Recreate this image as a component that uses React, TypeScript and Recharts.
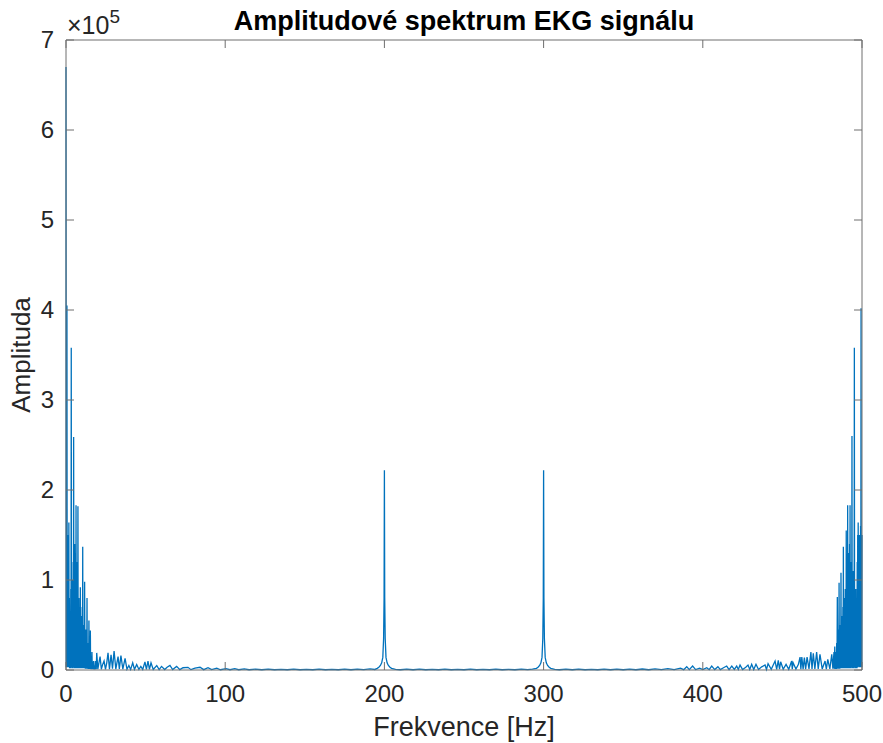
import { LineChart, Line, XAxis, YAxis } from "recharts";

// amplitude spectrum of the ECG signal, [frequency Hz, amplitude]
const LOW_BAND: [number, number][] = [
  [0, 670000], [0.15, 3000], [0.3, 150000], [0.45, 5000], [0.6, 405000],
  [0.75, 4000], [0.9, 120000], [1.05, 3000], [1.2, 150000], [1.35, 6000],
  [1.5, 140000], [1.65, 3000], [1.8, 164000], [1.95, 5000], [2.1, 80000],
  [2.25, 2000], [2.4, 60000], [2.55, 4000], [2.7, 40000], [2.85, 2000],
  [3.0, 90000], [3.15, 3000], [3.3, 358000], [3.45, 4000], [3.6, 70000],
  [3.75, 2000], [3.9, 100000], [4.05, 3000], [4.2, 60000], [4.35, 2000],
  [4.5, 120000], [4.65, 4000], [4.8, 259000], [4.95, 3000], [5.1, 90000],
  [5.25, 2000], [5.4, 140000], [5.55, 3000], [5.7, 100000], [5.85, 2000],
  [6.0, 130000], [6.15, 3000], [6.3, 183000], [6.45, 2000], [6.6, 80000],
  [6.75, 3000], [6.9, 120000], [7.05, 2000], [7.2, 90000], [7.35, 3000],
  [7.5, 182000], [7.65, 2000], [7.8, 60000], [7.95, 3000], [8.1, 80000],
  [8.25, 2000], [8.4, 50000], [8.55, 2000], [8.7, 70000], [8.85, 3000],
  [9.0, 92000], [9.15, 2000], [9.3, 40000], [9.45, 2000], [9.6, 60000],
  [9.75, 2000], [9.9, 45000], [10.05, 2000], [10.2, 70000], [10.35, 2000],
  [10.5, 137000], [10.65, 2000], [10.8, 40000], [10.95, 2000], [11.1, 50000],
  [11.25, 2000], [11.4, 35000], [11.55, 2000], [11.7, 98000], [11.85, 2000],
  [12.0, 30000], [12.15, 1500], [12.3, 45000], [12.45, 1500], [12.6, 25000],
  [12.75, 1500], [12.9, 40000], [13.05, 1500], [13.2, 80000], [13.35, 1500],
  [13.5, 25000], [13.65, 1500], [13.8, 30000], [13.95, 1000], [14.1, 20000],
  [14.25, 1500], [14.4, 55000], [14.55, 1000], [14.7, 15000], [14.85, 1000],
  [15.0, 25000], [15.15, 1000], [15.3, 44000], [15.45, 1000], [15.6, 12000],
  [15.75, 800], [15.9, 15000], [16.05, 800], [16.3, 20000], [16.5, 800],
  [16.8, 8000], [17.0, 800], [17.3, 10000], [17.6, 600], [17.9, 5000],
  [18.2, 600],
];

const LOW_TAIL: [number, number][] = [
  [18.5, 10000], [19.0, 800], [19.3, 19000], [20.0, 1000], [21.4, 15000],
  [22.2, 800], [23.0, 6000], [23.9, 10000], [24.8, 800], [25.6, 8000],
  [26.4, 19000], [27.3, 1000], [28.3, 17000], [29.2, 1500], [30.2, 21000],
  [31.3, 1000], [32.7, 15000], [33.5, 1200], [34.5, 16000], [35.7, 1000],
  [37.1, 13000], [38.3, 800], [39.5, 5000], [40.6, 600], [41.9, 8000],
  [43.0, 800], [44.4, 6000], [45.8, 600], [47.0, 4000], [48.2, 600],
  [49.6, 9000], [50.5, 800], [51.5, 10000], [52.4, 800], [53.4, 8000],
  [54.8, 600], [57.0, 5000], [58.5, 500], [60.0, 4000], [62.0, 500],
  [63.5, 3000], [65.3, 5000], [67.0, 500], [69.5, 4000], [71.5, 400],
  [73.5, 2500], [76.6, 3000], [78.5, 400], [81.0, 2000], [84.2, 3000],
  [86.5, 400], [89.2, 2500], [91.5, 400], [94.7, 2000], [97.0, 300],
  [100.5, 1500], [103.0, 300], [106.0, 1500], [108.5, 300],
];

const MID_A: [number, number][] = [
  [112, 1200], [115, 300], [119, 1000], [123, 300], [127, 900], [131, 300],
  [135, 800], [139, 300], [143, 900], [147, 300], [151, 800], [155, 300],
  [159, 900], [163, 300], [167, 800], [171, 300], [175, 900], [179, 300],
  [183, 1000], [187, 400], [191, 1200], [194, 600],
];

const PEAK_200: [number, number][] = [
  [195.5, 1800], [196.5, 3000], [197.5, 5000], [198.3, 8000], [199, 14000],
  [199.5, 35000], [199.8, 80000], [200, 222000], [200.2, 80000], [200.5, 35000],
  [201, 14000], [201.7, 8000], [202.5, 5000], [203.5, 3000], [204.5, 1800],
];

const MID_B: [number, number][] = [
  [207, 800], [210, 300], [214, 1000], [218, 300], [222, 900], [226, 300],
  [230, 800], [234, 300], [238, 900], [242, 300], [246, 800], [250, 300],
  [254, 900], [258, 300], [262, 800], [266, 300], [270, 900], [274, 300],
  [278, 800], [282, 300], [286, 900], [290, 400], [293, 1000],
];

const PEAK_300: [number, number][] = [
  [295.5, 1800], [296.5, 3000], [297.5, 5000], [298.3, 8000], [299, 14000],
  [299.5, 35000], [299.8, 80000], [300, 222000], [300.2, 80000], [300.5, 35000],
  [301, 14000], [301.7, 8000], [302.5, 5000], [303.5, 3000], [304.5, 1800],
];

const HIGH_TAIL: [number, number][] = [
  [307, 800], [310, 300], [314, 1000], [318, 300], [322, 900], [326, 300],
  [330, 800], [334, 300], [338, 900], [342, 300], [346, 1000], [350, 300],
  [354, 900], [358, 300], [362, 1100], [366, 300], [370, 1200], [374, 400],
  [378, 1500], [382, 400], [386, 2000], [388, 400], [389.9, 3700], [391.5, 400],
  [393.6, 4400], [395.5, 500], [398, 2000], [400, 400], [402.5, 2500], [404, 400],
  [405.6, 4400], [407.5, 500], [409.5, 3700], [411, 500], [413, 2500],
  [415, 4400], [416.5, 500], [418.2, 4400], [419.8, 600], [421.3, 4400],
  [422.3, 600], [423.4, 5500], [425, 600], [427, 3000], [428.4, 5500],
  [429.5, 600], [430.7, 6300], [432, 600], [433.4, 6300], [435, 600],
  [437, 3500], [439.1, 5500], [440, 600], [441, 7000], [443, 800],
  [445.4, 10000], [446.4, 800], [447.4, 10700], [448.2, 800], [448.9, 9200],
  [450.5, 800], [452.3, 6300], [454, 800], [455.8, 10000], [456.2, 800],
  [456.7, 8100], [458.5, 1000], [460, 6000], [461.1, 14400], [461.6, 1000],
  [462.2, 14400], [463, 1000], [463.8, 13700], [464.6, 1000], [465.5, 14400],
  [466.7, 1200], [467.9, 20000], [468.6, 1200], [469.4, 18500], [470.4, 1200],
  [471.5, 20000], [472.5, 1200], [473.6, 17400], [475, 1200], [476.8, 10000],
  [477.6, 1000], [478.5, 11800], [479.8, 1200], [481.0, 17400], [481.7, 1500],
  [482.4, 20000],
];

const HIGH_BAND: [number, number][] = [
  [482.6, 1500], [482.9, 26000], [483.1, 1000], [483.3, 12000], [483.5, 1000],
  [483.7, 20000], [483.9, 1000], [484.1, 30000], [484.3, 1500], [484.5, 81000],
  [484.7, 1500], [484.9, 25000], [485.1, 1500], [485.3, 45000], [485.45, 1500],
  [485.6, 97000], [485.75, 1500], [485.9, 35000], [486.05, 1500], [486.2, 50000],
  [486.35, 2000], [486.5, 40000], [486.65, 2000], [486.8, 108000], [486.95, 2000],
  [487.1, 45000], [487.25, 2000], [487.4, 60000], [487.55, 2000], [487.7, 50000],
  [487.85, 2000], [488.0, 70000], [488.15, 2000], [488.3, 137000], [488.45, 2000],
  [488.6, 60000], [488.75, 2000], [488.9, 80000], [489.05, 2000], [489.2, 55000],
  [489.35, 2000], [489.5, 90000], [489.65, 2000], [489.8, 60000], [489.95, 3000],
  [490.1, 155000], [490.25, 2000], [490.4, 80000], [490.55, 3000], [490.7, 110000],
  [490.85, 2000], [491.0, 183000], [491.15, 3000], [491.3, 90000], [491.45, 2000],
  [491.6, 130000], [491.75, 3000], [491.9, 100000], [492.05, 2000], [492.2, 140000],
  [492.35, 3000], [492.5, 183000], [492.65, 2000], [492.8, 90000], [492.95, 3000],
  [493.1, 120000], [493.25, 2000], [493.4, 100000], [493.55, 3000], [493.7, 260000],
  [493.85, 3000], [494.0, 90000], [494.15, 2000], [494.3, 110000], [494.45, 3000],
  [494.6, 70000], [494.75, 2000], [494.9, 100000], [495.05, 4000], [495.2, 358000],
  [495.35, 3000], [495.5, 80000], [495.65, 2000], [495.8, 60000], [495.95, 3000],
  [496.1, 90000], [496.25, 2000], [496.4, 50000], [496.55, 3000], [496.7, 70000],
  [496.85, 2000], [497.0, 120000], [497.15, 4000], [497.3, 150000], [497.45, 3000],
  [497.6, 164000], [497.75, 5000], [497.9, 140000], [498.05, 4000], [498.2, 150000],
  [498.35, 3000], [498.5, 120000], [498.65, 4000], [498.8, 150000], [498.95, 3000],
  [499.1, 160000], [499.25, 5000], [499.4, 402000], [499.55, 4000], [499.7, 150000],
  [499.85, 3000], [500, 150000],
];

const X_TICKS = [0, 100, 200, 300, 400, 500];
const Y_TICKS = [0, 100000, 200000, 300000, 400000, 500000, 600000, 700000];

const TITLE = "Amplitudové spektrum EKG signálu";
const X_LABEL = "Frekvence [Hz]";
const Y_LABEL = "Amplituda";

const data = [
  ...LOW_BAND, ...LOW_TAIL, ...MID_A, ...PEAK_200, ...MID_B,
  ...PEAK_300, ...HIGH_TAIL, ...HIGH_BAND,
].map(([f, a]) => ({ f, a }));

const FONT = "'Liberation Sans', Arial, Helvetica, sans-serif";
const AXIS = "#6e6e6e";
const TEXT = "#262626";
const TICK_LEN = 8;
const TICK_FONT = 24;
const LABEL_FONT = 26;

const BottomTick = (p: any) => (
  <g>
    <line x1={p.x} x2={p.x} y1={p.y} y2={p.y - TICK_LEN} stroke={AXIS} />
    <text x={p.x} y={p.y + 32} textAnchor="middle" fontSize={TICK_FONT} fill={TEXT} fontFamily={FONT}>
      {p.payload.value}
    </text>
  </g>
);

const TopTick = (p: any) => (
  <line x1={p.x} x2={p.x} y1={p.y} y2={p.y + TICK_LEN} stroke={AXIS} />
);

const LeftTick = (p: any) => (
  <g>
    <line x1={p.x} x2={p.x + TICK_LEN} y1={p.y} y2={p.y} stroke={AXIS} />
    <text x={p.x - 12} y={p.y + 8} textAnchor="end" fontSize={TICK_FONT} fill={TEXT} fontFamily={FONT}>
      {p.payload.value / 100000}
    </text>
  </g>
);

const RightTick = (p: any) => (
  <line x1={p.x} x2={p.x - TICK_LEN} y1={p.y} y2={p.y} stroke={AXIS} />
);

export default function App() {
  return (
    <div style={{ position: "absolute", left: 0, top: 0, background: "#fff" }}>
      <LineChart
        width={883}
        height={743}
        data={data}
        margin={{ top: 39, right: 20, bottom: 0, left: 0 }}
      >
        <XAxis
          dataKey="f"
          type="number"
          domain={[0, 500]}
          ticks={X_TICKS}
          interval={0}
          height={73}
          tickSize={0}
          tickMargin={0}
          tick={<BottomTick />}
          axisLine={{ stroke: AXIS }}
          tickLine={false}
          label={{
            content: (lp: any) => (
              <text
                x={lp.viewBox.x + lp.viewBox.width / 2}
                y={lp.viewBox.y + 66}
                textAnchor="middle"
                fontSize={27}
                fill={TEXT}
                fontFamily={FONT}
              >
                {X_LABEL}
              </text>
            ),
          }}
        />
        <XAxis
          xAxisId="top"
          dataKey="f"
          type="number"
          orientation="top"
          domain={[0, 500]}
          ticks={X_TICKS}
          interval={0}
          height={1}
          tickSize={0}
          tickMargin={0}
          tick={<TopTick />}
          axisLine={{ stroke: AXIS }}
          tickLine={false}
          label={{
            content: (lp: any) => (
              <text
                x={lp.viewBox.x + lp.viewBox.width / 2}
                y={lp.viewBox.y - 9}
                textAnchor="middle"
                fontSize={27}
                fontWeight="bold"
                fill="#000"
                fontFamily={FONT}
              >
                {TITLE}
              </text>
            ),
          }}
        />
        <YAxis
          type="number"
          domain={[0, 700000]}
          ticks={Y_TICKS}
          interval={0}
          width={66}
          tickSize={0}
          tickMargin={0}
          tick={<LeftTick />}
          axisLine={{ stroke: AXIS }}
          tickLine={false}
          label={{
            content: (lp: any) => (
              <g>
                <text
                  transform={`translate(${lp.viewBox.x + 30}, ${lp.viewBox.y + lp.viewBox.height / 2}) rotate(-90)`}
                  textAnchor="middle"
                  fontSize={LABEL_FONT}
                  fill={TEXT}
                  fontFamily={FONT}
                >
                  {Y_LABEL}
                </text>
                <text
                  x={lp.viewBox.x + lp.viewBox.width + 1}
                  y={lp.viewBox.y - 6}
                  fontSize={25}
                  fill={TEXT}
                  fontFamily={FONT}
                >
                  ×10
                  <tspan dy={-11} fontSize={19}>5</tspan>
                </text>
              </g>
            ),
          }}
        />
        <YAxis
          yAxisId="right"
          orientation="right"
          type="number"
          domain={[0, 700000]}
          ticks={Y_TICKS}
          interval={0}
          width={1}
          tickSize={0}
          tickMargin={0}
          tick={<RightTick />}
          axisLine={{ stroke: AXIS }}
          tickLine={false}
        />
        <Line
          xAxisId="top"
          yAxisId="right"
          type="linear"
          dataKey="a"
          stroke="none"
          dot={false}
          legendType="none"
          isAnimationActive={false}
        />
        <Line
          type="linear"
          dataKey="a"
          stroke="#0072BD"
          strokeWidth={1.3}
          dot={false}
          isAnimationActive={false}
        />
      </LineChart>
    </div>
  );
}
